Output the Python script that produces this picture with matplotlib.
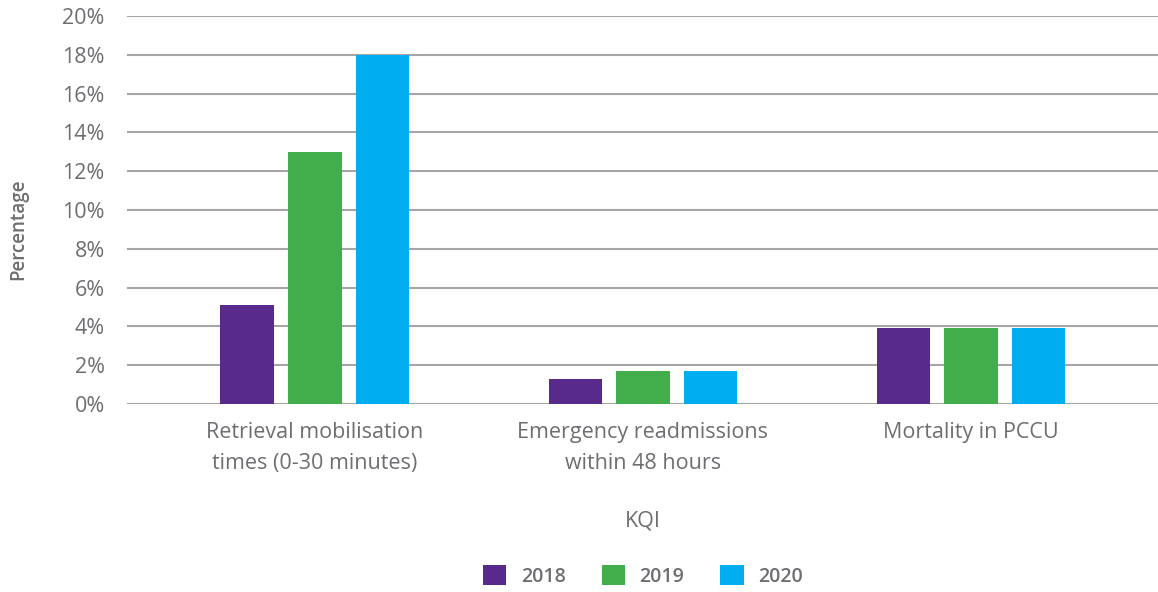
import matplotlib.pyplot as plt
import numpy as np

categories = ["Retrieval mobilisation\ntimes (0-30 minutes)",
              "Emergency readmissions\nwithin 48 hours",
              "Mortality in PCCU"]
years = ["2018", "2019", "2020"]
values_2018 = [5.1, 1.3, 3.9]
values_2019 = [13.0, 1.7, 3.9]
values_2020 = [18.0, 1.7, 3.9]
yticks = [0, 2, 4, 6, 8, 10, 12, 14, 16, 18, 20]

colors = ["#582a8b", "#41ae4b", "#00aeef"]
text_color = "#6d6e71"

plt.rcParams["font.family"] = ["Open Sans", "DejaVu Sans"]

fig = plt.figure(figsize=(11.58, 5.92), dpi=100)
ax = fig.add_axes([127 / 1158, 1 - 404 / 592, 1 - 127 / 1158, 388 / 592])

x = np.arange(len(categories))
width = 0.162
offset = 0.207
series = [values_2018, values_2019, values_2020]
for i, (year, vals) in enumerate(zip(years, series)):
    ax.bar(x + (i - 1) * offset, vals, width, color=colors[i], label=year, zorder=3)

ax.set_xlim(-0.573, 2.57)
ax.set_ylim(0, 20)
ax.set_yticks(yticks)
ax.set_yticklabels([f"{t}%" for t in yticks])
ax.set_xticks(x)
ax.set_xticklabels(categories, linespacing=1.65)

ax.grid(axis="y", color="#a6a6a6", linewidth=1.5, zorder=0)
for s in ax.spines.values():
    s.set_visible(False)
ax.tick_params(axis="both", length=0, labelsize=15.5, labelcolor=text_color)
ax.tick_params(axis="y", pad=16)
ax.tick_params(axis="x", pad=13)

fig.text(18 / 1158, 1 - 229 / 592, "Percentage", rotation=90, ha="center", va="center",
         fontsize=13.5, fontweight="semibold", color=text_color)
fig.text(643 / 1158, 1 - 521 / 592, "KQI", ha="center", va="center",
         fontsize=15.5, color=text_color)

leg = fig.legend(loc="center", bbox_to_anchor=(643 / 1158, 1 - 576 / 592), ncol=3,
                 frameon=False, handlelength=1.2, handleheight=1.2,
                 columnspacing=1.85, handletextpad=0.75,
                 prop={"size": 14, "weight": "semibold"})
for t in leg.get_texts():
    t.set_color(text_color)

fig.savefig("out.png", dpi=100)
